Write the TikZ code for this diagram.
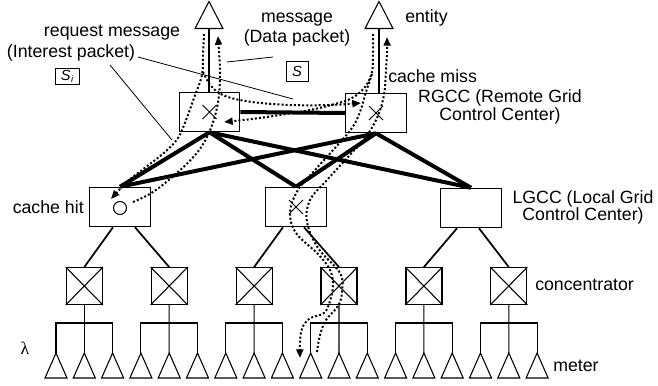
\documentclass[tikz,border=0pt]{standalone}
\usepackage{fontspec}
\setmainfont{Liberation Sans}
\newfontfamily\lamfont{Liberation Serif}
\usetikzlibrary{arrows.meta,calc}

\begin{document}
\begin{tikzpicture}[x=0.75pt,y=-0.75pt,
  every node/.style={font=\fontsize{13.3pt}{14pt}\selectfont, inner sep=0pt},
  rgbox/.style={draw, line width=0.9pt, minimum width=45.5pt, minimum height=29.5pt},
  lgbox/.style={draw, line width=0.9pt, minimum width=46pt, minimum height=29.5pt},
  concbox/.style={draw, line width=0.9pt, minimum width=27pt, minimum height=27.5pt},
  heavy/.style={line width=3pt},
  link/.style={line width=1.3pt},
  fine/.style={line width=0.8pt},
  leader/.style={line width=0.6pt},
  flow/.style={line width=1.5pt, dash pattern=on 1.5pt off 1.6pt},
  tip/.style={-{Triangle[length=6.5pt,width=5.2pt]}},
  crossmark/.style={line width=0.7pt},
]
\useasboundingbox (0,0) rectangle (658,386);

% ---------- entities ----------
\coordinate (e1) at (209,1.5);
\coordinate (e2) at (379,1.5);
\coordinate (e1b) at (209,28.5);
\coordinate (e2b) at (379,28.5);
\draw[fine] (e1) -- ++(-14,27) -- ++(28,0) -- cycle;
\draw[fine] (e2) -- ++(-14,27) -- ++(28,0) -- cycle;

% ---------- RGCC ----------
\node[rgbox] (rg1) at (209.5,112) {};
\node[rgbox] (rg2) at (376,113) {};
\draw[fine] (e1b) -- (e1b |- rg1.north);
\draw[fine] (e2b) -- (e2b |- rg2.north);
\draw[crossmark] ($(rg1)+(-7,-7)$) -- ($(rg1)+(7,7)$) ($(rg1)+(7,-7)$) -- ($(rg1)+(-7,7)$);
\draw[crossmark] ($(rg2)+(-7,-7)$) -- ($(rg2)+(7,7)$) ($(rg2)+(7,-7)$) -- ($(rg2)+(-7,7)$);

% ---------- LGCC ----------
\node[lgbox] (lg0) at (120,207) {};
\node[lgbox] (lg1) at (296,207) {};
\node[lgbox] (lg2) at (471,208) {};
\draw[fine] ($(lg0)+(0,1)$) circle (6.5);
\draw[crossmark] ($(lg1)+(-7,-7)$) -- ($(lg1)+(7,7)$) ($(lg1)+(7,-7)$) -- ($(lg1)+(-7,7)$);

% backbone links
\draw[heavy] (rg1.east) -- (rg2.west);
\foreach \r in {rg1,rg2}
  \foreach \l in {lg0,lg1,lg2}
    \draw[heavy] (\r.south) -- (\l.north);

% ---------- meters ----------
\foreach \k in {0,...,17}{
  \pgfmathsetmacro\mx{56+28.3*\k}
  \coordinate (m\k) at (\mx,353);
  \draw[fine] (m\k) -- ++(-11,25) -- ++(22,0) -- cycle;
}

% ---------- concentrators and their meter buses ----------
\foreach \i in {0,...,5}{
  \pgfmathsetmacro\cx{84.3+84.9*\i}
  \pgfmathtruncatemacro\ma{3*\i}
  \pgfmathtruncatemacro\mb{3*\i+1}
  \pgfmathtruncatemacro\mc{3*\i+2}
  \node[concbox] (c\i) at (\cx,286) {};
  \draw[fine] (c\i.north west) -- (c\i.south east) (c\i.north east) -- (c\i.south west);
  \draw[fine] (c\i.south) -- (m\mb);
  \draw[fine] (m\ma) -- ($(m\ma)+(0,-30)$) -- ($(m\mc)+(0,-30)$) -- (m\mc);
}

% LGCC to concentrator links
\draw[link] ($(lg0.south)+(-7,0)$) -- (c0.north);
\draw[link] ($(lg0.south)+(15,0)$) -- (c1.north);
\draw[link] ($(lg1.south)+(-13,0)$) -- (c2.north);
\draw[link] ($(lg1.south)+(8,0)$) -- (c3.north);
\draw[link] ($(lg2.south)+(-14,0)$) -- (c4.north);
\draw[link] ($(lg2.south)+(8,0)$) -- (c5.north);

% ---------- message flows ----------
% request from the left entity, served by a cache hit
\draw[flow,tip] plot[smooth,tension=0.6] coordinates {(204,34) (203,55) (202,75) (194,98) (186,120) (178,138) (165,152) (146,167) (128,181) (111,199)};
% data returned from the cache hit
\draw[flow,tip] plot[smooth,tension=0.6] coordinates {(133,202) (153,192) (177,173) (196,154) (207,137) (215,116) (219,95) (220,72) (219,52) (218,36)};
% forwarded request towards the remote RGCC
\draw[flow,tip] plot[smooth,tension=0.6] coordinates {(203,72) (211,86) (225,96) (252,102) (290,105) (330,105) (361,103)};
% request from the right entity towards the left RGCC
\draw[flow,tip] plot[smooth,tension=0.6] coordinates {(373,34) (373,55) (372,72) (365,87) (352,98) (335,104) (310,110) (280,115) (252,119) (224,122)};
% cache miss: request down to the meter
\draw[flow,tip] plot[smooth,tension=0.6] coordinates {(372,74) (366,92) (360,112) (352,128) (335,148) (315,170) (298,190) (290,212) (296,233) (318,254) (330,270) (333,285) (330,301) (324,313) (309,319) (301,332) (300,358)};
% data from the meter back up to the right entity
\draw[flow,tip] plot[smooth,tension=0.6] coordinates {(317,352) (320,335) (326,320) (338,306) (342,292) (340,273) (318,248) (307,222) (310,200) (327,180) (347,158) (365,138) (377,118) (384,95) (386,70) (387,52) (387,37)};

% ---------- labels ----------
\node (lreq) at (112,33) {request message};
\node (lint) at (71,53) {(Interest packet)};
\node[draw, line width=0.6pt, minimum width=18pt, minimum height=12.5pt, font=\fontsize{11pt}{12pt}\selectfont] (si) at (67,76.5) {\itshape S\kern0.3pt\raisebox{-1pt}{\fontsize{7pt}{8pt}\selectfont i}};
\node (lmsg) at (297,20) {message};
\node (ldata) at (297,38) {(Data packet)};
\node[draw, line width=0.6pt, minimum width=16.5pt, minimum height=15pt, font=\fontsize{11pt}{12pt}\selectfont] (sbox) at (297,71) {\itshape S};
\node[anchor=west] (lent) at (405,18) {entity};
\node[anchor=west] (lmiss) at (388,76) {cache miss};
\node[align=center, font=\fontsize{13.3pt}{13.3pt}\selectfont] (lrg) at (500,107) {RGCC (Remote Grid\\Control Center)};
\node[align=center, font=\fontsize{13.3pt}{13.3pt}\selectfont] (llg) at (583,207.5) {LGCC (Local Grid\\Control Center)};
\node[anchor=east] (lhit) at (84,207) {cache hit};
\node[anchor=west] (lconc) at (535,285) {concentrator};
\node[anchor=west] (lmeter) at (553,366) {meter};
\node (llam) at (25,348) {\lamfont λ};

% leader lines
\coordinate (q1) at (138,57);
\coordinate (q1e) at (293,99);
\coordinate (q2) at (110,65);
\coordinate (q2e) at (172,140);
\coordinate (q3) at (227,62);
\coordinate (q3e) at (273,57);
\draw[leader] (q1) -- (q1e);
\draw[leader] (q2) -- (q2e);
\draw[leader] (q3) -- (q3e);
\end{tikzpicture}
\end{document}
